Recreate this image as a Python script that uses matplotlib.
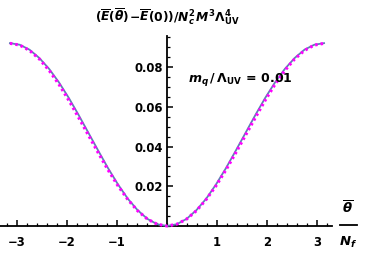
import numpy as np
import matplotlib
matplotlib.use("Agg")
import matplotlib.pyplot as plt
from matplotlib.lines import Line2D
from matplotlib.ticker import MultipleLocator, FixedLocator

# bold sans look like the original
plt.rcParams["mathtext.fontset"] = "custom"
plt.rcParams["mathtext.rm"] = "DejaVu Sans:bold"
plt.rcParams["mathtext.it"] = "DejaVu Sans:italic:bold"
plt.rcParams["mathtext.bf"] = "DejaVu Sans:bold"
plt.rcParams["mathtext.cal"] = "DejaVu Sans:italic:bold"

# curve values, theta/N_f from 0 to pi (step pi/16), mirrored for negative side
theta_half = np.linspace(0, np.pi, 17)
blue_half = [0.0, 0.0009, 0.0036, 0.0080, 0.0138, 0.0210, 0.0291, 0.0379, 0.0469,
             0.0559, 0.0645, 0.0723, 0.0791, 0.0846, 0.0888, 0.0913, 0.0921]
magenta_half = [0.0, 0.0009, 0.0035, 0.0077, 0.0134, 0.0203, 0.0282, 0.0368, 0.0457,
                0.0546, 0.0633, 0.0713, 0.0783, 0.0841, 0.0884, 0.0911, 0.0920]

theta = np.concatenate([-theta_half[::-1], theta_half[1:]])
blue = np.concatenate([blue_half[::-1], blue_half[1:]])
magenta = np.concatenate([magenta_half[::-1], magenta_half[1:]])

x_ticks = [-3, -2, -1, 1, 2, 3]
y_ticks = [0.02, 0.04, 0.06, 0.08]

fig = plt.figure(figsize=(3.65, 2.62), dpi=100)
ax = fig.add_axes([0 / 365, 36 / 262, 332 / 365, 190 / 262])

ax.plot(theta, blue, color="#5E81B5", lw=1.3, clip_on=False, zorder=3)
ax.plot(theta, magenta, color="#FF00FF", lw=2.2, ls=(0, (0.8, 1.0)), clip_on=False, zorder=4)

ax.set_xlim(-3.34, 3.30)
ax.set_ylim(0, 0.0957)

for s in ["top", "right"]:
    ax.spines[s].set_visible(False)
ax.spines["left"].set_position(("data", 0))
ax.spines["bottom"].set_position(("data", 0))
ax.spines["left"].set_linewidth(1.3)
ax.spines["bottom"].set_linewidth(1.3)

ax.xaxis.set_major_locator(FixedLocator(x_ticks))
ax.xaxis.set_minor_locator(MultipleLocator(0.2))
ax.yaxis.set_major_locator(FixedLocator(y_ticks))
ax.yaxis.set_minor_locator(MultipleLocator(0.005))
ax.set_xticklabels(["\u22123", "\u22122", "\u22121", "1", "2", "3"])
ax.set_yticklabels(["0.02", "0.04", "0.06", "0.08"])

ax.tick_params(which="major", direction="in", length=4, width=1.1, labelsize=8.4)
ax.tick_params(axis="x", which="major", pad=7)
ax.tick_params(axis="y", which="major", pad=3)
ax.tick_params(which="minor", direction="in", length=2.3, width=0.9)
for lab in ax.get_xticklabels() + ax.get_yticklabels():
    lab.set_fontweight("bold")

fig.text(167 / 365, 1 - 17 / 262,
         r"$(\overline{\mathcal{E}}(\overline{\theta})\!-\!\overline{\mathcal{E}}(0))/N_c^2M^3\Lambda_{\rm UV}^4$",
         ha="center", va="center", fontsize=8.8)
fig.text(188 / 365, 1 - 79 / 262, r"$m_q\,/\,\Lambda_{\rm UV}\,=\,0.01$",
         ha="left", va="center", fontsize=9)

# axis label as a stacked fraction
fig.text(348 / 365, 1 - 208 / 262, r"$\overline{\theta}$", ha="center", va="center", fontsize=9.5)
fig.text(348 / 365, 1 - 242 / 262, r"$N_f$", ha="center", va="center", fontsize=9.5)
fig.add_artist(Line2D([340 / 365, 357 / 365], [1 - 225 / 262, 1 - 225 / 262],
                      color="black", lw=1.3, transform=fig.transFigure))

fig.savefig("out.png", dpi=100)
